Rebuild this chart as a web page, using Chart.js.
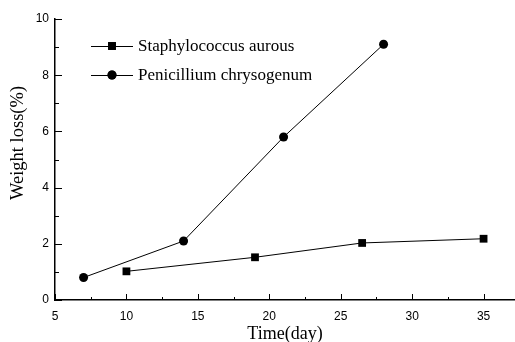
<!DOCTYPE html>
<html lang="en">
<head>
    <meta charset="UTF-8">
    <title>Weight loss</title>
    <script src="https://cdn.jsdelivr.net/npm/chart.js"></script>
    <style>
        html, body { margin: 0; padding: 0; background: #fff; }
        #wrap { width: 515px; height: 342px; }
    </style>
</head>
<body>
    <div id="wrap"><canvas id="lossChart" width="515" height="342"></canvas></div>

    <script>
        // data
        const staphDays = [10, 19, 26.5, 35];
        const staphLoss = [1.02, 1.52, 2.03, 2.18];
        const peniDays = [7, 14, 21, 28];
        const peniLoss = [0.8, 2.1, 5.8, 9.1];

        const xTicks = [5, 10, 15, 20, 25, 30, 35];
        const xMinor = [7.5, 12.5, 17.5, 22.5, 27.5, 32.5];
        const yTicks = [0, 2, 4, 6, 8, 10];
        const yMinor = [1, 3, 5, 7, 9];

        const serif = '"Liberation Serif", "Times New Roman", serif';
        const sans = '"Liberation Sans", Arial, sans-serif';

        // inward tick marks + y title (sits a bit above the middle in the original)
        const tickPlugin = {
            id: 'inTicks',
            afterDraw(chart) {
                const ctx = chart.ctx;
                const xs = chart.scales.x, ys = chart.scales.y;
                const area = chart.chartArea;
                ctx.save();
                ctx.strokeStyle = '#000';
                ctx.lineWidth = 1;
                ctx.beginPath();
                xTicks.forEach(v => {
                    const px = Math.round(xs.getPixelForValue(v)) + 0.5;
                    ctx.moveTo(px, area.bottom); ctx.lineTo(px, area.bottom - 6);
                });
                xMinor.forEach(v => {
                    const px = Math.round(xs.getPixelForValue(v)) + 0.5;
                    ctx.moveTo(px, area.bottom); ctx.lineTo(px, area.bottom - 3);
                });
                yTicks.forEach(v => {
                    const py = Math.round(ys.getPixelForValue(v)) + 0.5;
                    ctx.moveTo(area.left, py); ctx.lineTo(area.left + 7, py);
                });
                yMinor.forEach(v => {
                    const py = Math.round(ys.getPixelForValue(v)) + 0.5;
                    ctx.moveTo(area.left, py); ctx.lineTo(area.left + 4, py);
                });
                ctx.stroke();

                ctx.translate(18, 143);
                ctx.rotate(-Math.PI / 2);
                ctx.fillStyle = '#000';
                ctx.font = '18.5px ' + serif;
                ctx.textAlign = 'center';
                ctx.textBaseline = 'middle';
                ctx.fillText('Weight loss(%)', 0, 0);
                ctx.restore();
            }
        };

        // legend: line with marker through it, drawn inside the plot
        const legendPlugin = {
            id: 'lineLegend',
            afterDraw(chart) {
                const ctx = chart.ctx;
                const x0 = 91, x1 = 133, tx = 138;
                const rows = [46, 75];
                ctx.save();
                chart.data.datasets.forEach((ds, i) => {
                    const y = rows[i];
                    ctx.strokeStyle = '#000';
                    ctx.lineWidth = 1;
                    ctx.beginPath();
                    ctx.moveTo(x0, y + 0.5); ctx.lineTo(x1, y + 0.5);
                    ctx.stroke();
                    ctx.fillStyle = '#000';
                    Chart.helpers.drawPoint(ctx, {
                        pointStyle: ds.pointStyle, radius: ds.pointRadius, borderWidth: 0
                    }, (x0 + x1) / 2, y);
                    ctx.fill();
                    ctx.font = '17px ' + serif;
                    ctx.textBaseline = 'middle';
                    ctx.textAlign = 'left';
                    ctx.fillText(ds.label, tx, y + 1);
                });
                ctx.restore();
            }
        };

        const ctx = document.getElementById('lossChart').getContext('2d');
        new Chart(ctx, {
            type: 'line',
            data: {
                datasets: [{
                    label: 'Staphylococcus aurous',
                    data: staphDays.map((d, i) => ({ x: d, y: staphLoss[i] })),
                    borderColor: '#000',
                    backgroundColor: '#000',
                    borderWidth: 1,
                    pointStyle: 'rect',
                    pointRadius: 5.5,
                    pointBorderWidth: 0,
                    tension: 0
                }, {
                    label: 'Penicillium chrysogenum',
                    data: peniDays.map((d, i) => ({ x: d, y: peniLoss[i] })),
                    borderColor: '#000',
                    backgroundColor: '#000',
                    borderWidth: 1,
                    pointStyle: 'circle',
                    pointRadius: 4.5,
                    pointBorderWidth: 0,
                    tension: 0
                }]
            },
            options: {
                responsive: false,
                animation: false,
                layout: { autoPadding: false, padding: { top: 19, right: 0, left: 0, bottom: 0 } },
                plugins: {
                    legend: { display: false },
                    tooltip: { enabled: false }
                },
                scales: {
                    x: {
                        type: 'linear',
                        min: 5,
                        max: 37.2,
                        afterBuildTicks: s => { s.ticks = xTicks.map(v => ({ value: v })); },
                        afterFit: s => { s.height = 42; s.paddingRight = 0; s.paddingLeft = 0; },
                        grid: { display: false, drawTicks: false },
                        border: { display: true, color: '#000', width: 1.5 },
                        ticks: {
                            color: '#000',
                            padding: 9,
                            maxRotation: 0,
                            font: { family: sans, size: 12 }
                        },
                        title: {
                            display: true,
                            text: 'Time(day)',
                            color: '#000',
                            padding: { top: 4, bottom: 0 },
                            font: { family: serif, size: 18, lineHeight: 0.9 }
                        }
                    },
                    y: {
                        min: 0,
                        max: 10,
                        afterBuildTicks: s => { s.ticks = yTicks.map(v => ({ value: v })); },
                        afterFit: s => { s.width = 55; },
                        grid: { display: false, drawTicks: false },
                        border: { display: true, color: '#000', width: 1.5 },
                        ticks: {
                            color: '#000',
                            padding: 6,
                            font: { family: sans, size: 12 }
                        }
                    }
                }
            },
            plugins: [tickPlugin, legendPlugin]
        });
    </script>
</body>
</html>
